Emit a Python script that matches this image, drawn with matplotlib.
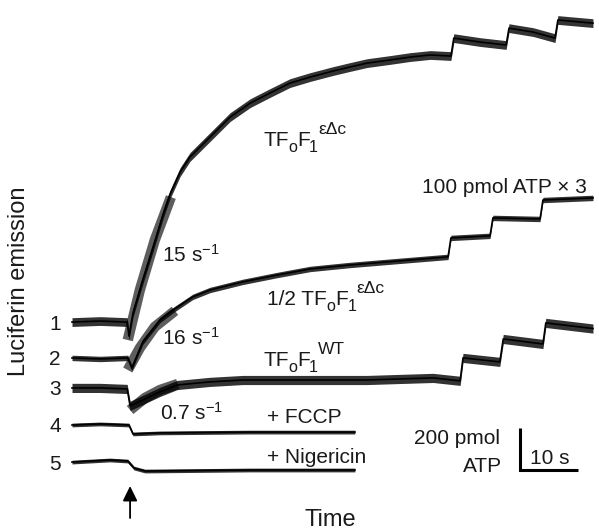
import matplotlib
matplotlib.use("Agg")
import matplotlib.pyplot as plt

plt.rcParams['font.family'] = ['Liberation Sans', 'DejaVu Sans']
plt.rcParams['mathtext.fontset'] = 'custom'
plt.rcParams['mathtext.rm'] = 'Liberation Sans'
plt.rcParams['mathtext.it'] = 'Liberation Sans:italic'
plt.rcParams['mathtext.bf'] = 'Liberation Sans:bold'

# ---------------- data (time in s, signal in pmol ATP relative to baseline) -------------
trace_names = ["1", "2", "3", "4", "5"]

t1 = [0, 4.9, 9.6, 9.9, 10.6, 12.3, 14.1, 15.8, 17.0, 18.8, 20.5, 24.0, 27.5, 31.0, 34.4,
      37.9, 41.4, 45.4, 48.3, 51.3, 55.3, 58.8, 62.3, 65.9, 66.4, 71.0, 75.5, 76.0, 80.2,
      84.0, 84.5, 90.6]
v1 = [0, 5, 0, -67, 43, 202, 360, 514, 610, 720, 792, 888, 984, 1051, 1099,
      1147, 1176, 1205, 1224, 1243, 1258, 1272, 1282, 1277, 1363, 1344, 1330, 1411, 1392,
      1363, 1450, 1435]

t2 = [0, 4.9, 9.7, 10.4, 12.3, 15.3, 17.6, 21.0, 24.0, 29.7, 35.7, 41.4, 48.3, 57.0,
      65.4, 65.9, 72.7, 73.2, 81.4, 81.9, 90.6]
v2 = [0, -5, 0, -48, 77, 182, 230, 293, 326, 365, 398, 427, 446, 466,
      485, 576, 586, 672, 667, 758, 768]

t3 = [0, 4.9, 9.6, 10.1, 12.3, 15.3, 18.3, 24.0, 29.7, 39.7, 51.3, 62.8, 67.5, 68.0,
      74.4, 75.0, 81.9, 82.4, 90.6]
v3 = [0, 0, -5, -86, -58, -19, 14, 29, 38, 38, 38, 48, 34, 144,
      125, 235, 211, 312, 285]

t4 = [0, 4.9, 9.9, 10.6, 15.3, 31.0, 49.2]
v4 = [0, 5, 0, -43, -38, -34, -34]

t5 = [0, 6.6, 9.7, 10.8, 12.7, 31.0, 49.2]
v5 = [0, 10, 5, -29, -43, -38, -38]

# noise half-amplitude of each recorded trace (pmol)
noise = [21, 13, 22, 9, 9]

# fitted initial rates (grey bands), in the coordinates of traces 1-3
fit1_t = [9.7, 11.8, 14.4, 17.2]
fit1_v = [-86, 154, 394, 600]
fit2_t = [9.7, 11.8, 14.4, 17.9]
fit2_v = [-58, 48, 149, 226]
fit3_t = [10.1, 12.7, 15.3, 18.4]
fit3_v = [-106, -48, -10, 19]
rate_labels = ["15 s$^{-1}$", "16 s$^{-1}$", "0.7 s$^{-1}$"]

injection_time = 10.1
scale_bar_pmol = 200
scale_bar_s = 10

# ---------------- layout ----------------
W, H = 599, 532
fig = plt.figure(figsize=(W / 100, H / 100), dpi=100)
ax = fig.add_axes([0, 0, 1, 1])
ax.axis('off')

px_per_s = 5.75
pmol_per_px = 4.8
x0_px, yref_px = 72, 480
ax.set_xlim(-x0_px / px_per_s, (W - x0_px) / px_per_s)
ax.set_ylim((yref_px - H) * pmol_per_px, yref_px * pmol_per_px)

offsets = [758, 586, 442, 264, 86]
traces = [(t1, v1), (t2, v2), (t3, v3), (t4, v4), (t5, v5)]
fits = [(fit1_t, fit1_v, 0), (fit2_t, fit2_v, 1), (fit3_t, fit3_v, 2)]

band_color = '#5e5e5e'
for ft, fv, k in fits:
    ax.plot(ft, [v + offsets[k] for v in fv], color=band_color, lw=7.5,
            solid_capstyle='butt', zorder=1)

for (tt, vv), off, nz in zip(traces, offsets, noise):
    yy = [v + off for v in vv]
    ax.fill_between(tt, [y - nz for y in yy], [y + nz for y in yy],
                    color='black', alpha=0.8, lw=0, zorder=2)
    ax.plot(tt, yy, color='black', lw=1.2, zorder=3)

TXT = '#1a1a1a'


def ftxt(x, y, s, size=15, ha='left', va='baseline', **kw):
    return fig.text(x / W, 1 - y / H, s, fontsize=size, ha=ha, va=va, color=TXT, **kw)


renderer = fig.canvas.get_renderer()


def compose(x, y, parts):
    """parts: (text, fontsize, vertical shift in px, downward positive, kern px)"""
    cx = x
    for s, size, dy, kern in parts:
        t = ftxt(cx + kern, y + dy, s, size=size)
        cx += kern + t.get_window_extent(renderer).width


def enzyme(x, y, sup, prefix=''):
    compose(x, y, [(prefix + 'TF', 15, 0, 0), ('o', 11.5, 6, 0), ('F', 15, 0, 0),
                   ('1', 11.5, 6, -1), (sup, 12.5, -12, 0)])


# trace numbers
for name, off in zip(trace_names, offsets):
    ax.text((61 - x0_px) / px_per_s, off, name,
            fontsize=15, ha='right', va='center_baseline', color=TXT)

# labels
enzyme(263, 146, 'εΔc')
ftxt(422, 193, '100 pmol ATP × 3')
enzyme(267, 305, 'εΔc', prefix='1/2 ')
enzyme(263, 366, 'WT')
ftxt(267, 423, '+ FCCP')
ftxt(267, 463, '+ Nigericin')
ftxt(162, 262, rate_labels[0])
ftxt(162, 345, rate_labels[1])
ftxt(160, 420, rate_labels[2])
ftxt(500, 444, '200 pmol', ha='right')
ftxt(502, 472, 'ATP', ha='right')
ftxt(530, 464, '10 s')
ftxt(330, 526, 'Time', size=17, ha='center')
ftxt(19, 281, 'Luciferin emission', size=17, ha='center', va='center', rotation=90)

# injection arrow
ax.annotate('', xy=(injection_time, (yref_px - 486) * pmol_per_px),
            xytext=(injection_time, (yref_px - 518) * pmol_per_px),
            arrowprops=dict(arrowstyle='-|>,head_length=0.45,head_width=0.22',
                            mutation_scale=20, color='black', lw=1.3,
                            shrinkA=0, shrinkB=0))

# scale bar
sb_t = (520 - x0_px) / px_per_s
sb_v = (yref_px - 470) * pmol_per_px
ax.plot([sb_t, sb_t, sb_t + scale_bar_s], [sb_v + scale_bar_pmol, sb_v, sb_v],
        color='black', lw=2.2, solid_joinstyle='miter', solid_capstyle='butt')

fig.savefig('out.png', dpi=100)
